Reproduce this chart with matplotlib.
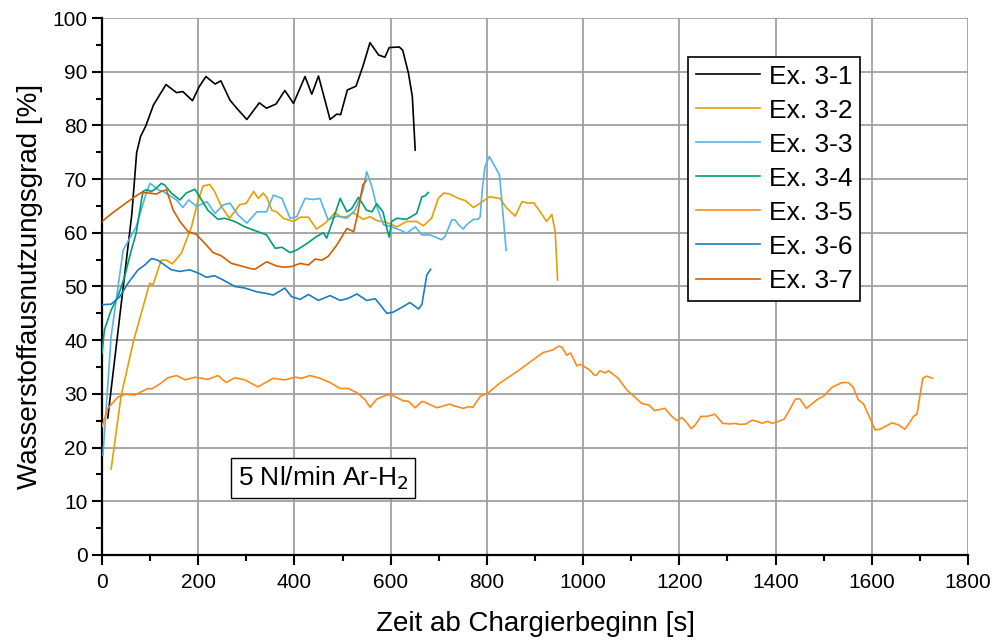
import numpy as np
import matplotlib
matplotlib.use('Agg')
import matplotlib.pyplot as plt
from matplotlib.ticker import MultipleLocator
from matplotlib import font_manager

plt.rcParams['font.family'] = ['Liberation Sans', 'DejaVu Sans']

# Ex. 3-1
t1 = [12, 62, 72, 80, 91, 107, 133, 155, 168, 188, 202, 216, 235, 247, 266, 280, 301, 327, 342, 362,
      380, 398, 422, 436, 450, 474, 488, 496, 510, 528, 543, 557, 575, 588, 597, 618, 625, 637, 645, 651]
y1 = [25.5, 63.5, 74.9, 77.9, 79.9, 83.8, 87.6, 86.1, 86.3, 84.6, 87.2, 89.1, 87.7, 88.3, 84.7, 83.2, 81.1, 84.2, 83.2, 84.0,
      86.5, 84.1, 89.1, 85.8, 89.2, 81.1, 82.1, 82.0, 86.6, 87.3, 91.2, 95.4, 93.1, 92.7, 94.5, 94.6, 94.0, 89.7, 85.4, 75.4]

# Ex. 3-2
t2 = [19, 40, 66, 99, 106, 123, 134, 146, 165, 186, 198, 210, 224, 234, 248, 265, 286, 300, 315, 325,
      335, 342, 353, 363, 377, 398, 412, 429, 446, 464, 484, 498, 509, 523, 543, 557, 571, 592, 613, 633,
      654, 668, 685, 699, 710, 723, 741, 755, 772, 786, 805, 827, 841, 859, 873, 886, 897, 911, 924, 935,
      942, 947]
y2 = [16.0, 29.8, 40.0, 50.6, 50.3, 54.9, 54.9, 54.2, 56.2, 61.1, 65.5, 68.7, 69.0, 67.7, 64.9, 62.7, 65.2, 65.5, 67.7, 66.4,
      67.4, 66.7, 64.2, 63.9, 62.7, 62.1, 62.9, 62.9, 60.7, 61.8, 63.7, 62.9, 63.0, 63.7, 62.5, 63.0, 62.3, 61.9, 61.1, 62.1,
      62.1, 61.3, 62.7, 66.4, 67.4, 67.2, 66.4, 66.0, 64.7, 65.5, 66.7, 66.4, 64.6, 63.1, 65.8, 65.5, 65.6, 63.9, 62.1, 63.4,
      60.2, 51.2]

# Ex. 3-3
t3 = [2, 19, 44, 71, 92, 100, 117, 127, 155, 168, 180, 197, 218, 235, 252, 266, 283, 301, 322, 342,
      356, 374, 391, 405, 422, 439, 453, 470, 488, 509, 526, 543, 550, 561, 571, 585, 602, 620, 633, 651,
      665, 682, 706, 713, 727, 734, 741, 751, 758, 772, 782, 786, 791, 796, 805, 817, 826, 831, 840]
y3 = [18.6, 40.7, 56.8, 61.1, 67.4, 69.2, 68.0, 67.7, 66.1, 64.7, 66.1, 64.9, 65.8, 63.6, 65.2, 65.5, 63.3, 61.8, 63.9, 63.9,
      67.0, 66.4, 62.7, 63.0, 66.4, 66.2, 66.4, 62.4, 63.1, 62.7, 64.2, 68.0, 71.4, 68.6, 64.9, 61.5, 61.1, 60.5, 59.9, 61.1,
      59.6, 59.6, 58.7, 59.3, 62.4, 62.4, 61.5, 60.7, 61.5, 62.5, 62.5, 63.0, 68.6, 72.3, 74.2, 72.3, 70.8, 66.1, 56.7]

# Ex. 3-4
t4 = [0, 5, 19, 33, 47, 61, 71, 85, 92, 103, 113, 123, 130, 144, 162, 175, 193, 203, 220, 241,
      255, 276, 297, 324, 342, 360, 374, 391, 405, 426, 446, 460, 467, 478, 495, 509, 519, 533, 550, 561,
      571, 584, 592, 597, 602, 613, 633, 654, 665, 672, 678]
y4 = [37.6, 41.9, 45.6, 48.1, 51.8, 56.8, 59.9, 67.7, 68.0, 67.7, 68.3, 69.2, 68.9, 67.4, 66.1, 67.4, 68.1, 66.7, 64.2, 62.5,
      62.7, 62.1, 61.1, 60.2, 59.6, 57.1, 57.3, 56.3, 56.8, 58.0, 59.3, 60.0, 59.0, 61.8, 66.4, 63.9, 64.5, 66.6, 64.2, 63.9,
      65.4, 63.9, 60.8, 59.2, 62.1, 62.7, 62.5, 63.6, 66.7, 66.9, 67.5]

# Ex. 3-5
t5 = [0, 12, 33, 47, 68, 96, 103, 123, 137, 155, 173, 193, 220, 241, 258, 276, 297, 324, 356, 380,
      401, 415, 432, 453, 474, 495, 512, 530, 547, 557, 571, 592, 602, 626, 637, 651, 665, 672, 696, 723,
      730, 751, 762, 771, 786, 803, 827, 862, 897, 917, 938, 949, 956, 966, 974, 987, 994, 1013, 1023, 1028,
      1035, 1046, 1053, 1073, 1091, 1105, 1122, 1137, 1148, 1160, 1170, 1181, 1195, 1205, 1214, 1225, 1233, 1245, 1257, 1274,
      1290, 1306, 1316, 1325, 1339, 1351, 1361, 1372, 1383, 1392, 1404, 1418, 1429, 1441, 1450, 1464, 1486, 1500, 1517, 1538,
      1551, 1561, 1572, 1583, 1593, 1607, 1617, 1642, 1656, 1669, 1687, 1694, 1706, 1714, 1726]
y5 = [23.9, 27.3, 29.4, 29.9, 29.8, 31.0, 30.9, 32.0, 33.0, 33.4, 32.6, 33.1, 32.7, 33.4, 32.1, 33.0, 32.6, 31.3, 32.9, 32.6,
      33.1, 32.9, 33.4, 32.9, 32.1, 31.0, 31.0, 30.2, 28.9, 27.5, 29.0, 29.8, 29.8, 28.7, 28.6, 27.4, 28.6, 28.4, 27.4, 28.1,
      27.8, 27.3, 27.6, 27.5, 29.5, 30.2, 32.0, 34.1, 36.4, 37.7, 38.2, 38.9, 38.7, 37.2, 37.6, 35.2, 35.5, 34.5, 33.5, 33.5,
      34.3, 33.9, 34.3, 32.9, 30.7, 29.6, 28.2, 27.9, 26.9, 27.1, 27.3, 26.1, 25.0, 25.6, 24.8, 23.5, 24.2, 25.8, 25.8, 26.2,
      24.5, 24.4, 24.5, 24.3, 24.4, 25.1, 24.9, 24.5, 24.9, 24.5, 24.8, 25.3, 27.0, 29.0, 29.1, 27.3, 28.9, 29.6, 31.2, 32.1,
      32.1, 31.3, 28.9, 28.1, 26.1, 23.3, 23.4, 24.6, 24.2, 23.4, 25.8, 26.2, 32.9, 33.3, 32.9]

# Ex. 3-6
t6 = [0, 19, 37, 54, 75, 89, 103, 116, 130, 144, 162, 182, 200, 217, 234, 252, 276, 297, 322, 342,
      356, 380, 394, 412, 429, 450, 474, 495, 512, 530, 550, 568, 578, 592, 605, 623, 640, 658, 665, 675,
      683]
y6 = [46.6, 46.7, 48.1, 50.6, 53.1, 54.0, 55.2, 54.9, 54.0, 53.1, 52.8, 53.1, 52.5, 51.7, 52.0, 51.2, 50.0, 49.7, 49.0, 48.7,
      48.4, 49.7, 48.1, 47.6, 48.5, 47.4, 48.3, 47.4, 47.8, 48.6, 47.4, 47.7, 46.6, 45.0, 45.2, 46.1, 47.0, 45.8, 46.7, 52.1,
      53.2]

# Ex. 3-7
t7 = [0, 19, 37, 54, 68, 82, 99, 113, 123, 134, 141, 148, 162, 179, 196, 214, 231, 248, 269, 290,
      310, 318, 342, 363, 377, 394, 412, 429, 443, 457, 470, 488, 509, 523, 531, 542, 549]
y7 = [62.1, 63.5, 64.7, 65.8, 66.7, 67.5, 67.4, 67.2, 67.7, 68.0, 66.1, 64.2, 62.1, 60.2, 59.7, 58.0, 56.3, 55.7, 54.3, 53.8,
      53.3, 53.2, 54.6, 53.8, 53.6, 53.7, 54.3, 54.0, 55.1, 54.9, 55.6, 57.7, 60.8, 60.2, 63.3, 68.9, 69.7]

series = [(t1, y1, 'Ex. 3-1', '#000000'),
          (t2, y2, 'Ex. 3-2', '#E69F00'),
          (t3, y3, 'Ex. 3-3', '#56B4E9'),
          (t4, y4, 'Ex. 3-4', '#009E73'),
          (t5, y5, 'Ex. 3-5', '#FF8A1C'),
          (t6, y6, 'Ex. 3-6', '#1A7DC0'),
          (t7, y7, 'Ex. 3-7', '#D55E00')]

# narrow font for x tick labels if it is there
installed = {f.name for f in font_manager.fontManager.ttflist}
narrow = 'Liberation Sans Narrow' if 'Liberation Sans Narrow' in installed else 'Liberation Sans'

fig = plt.figure(figsize=(10, 6.43), dpi=100)
ax = fig.add_axes([0.102, 0.137, 0.866, 0.835])

for t, y, lab, c in series:
    ax.plot(t, y, color=c, lw=1.2, label=lab, zorder=3)

ax.set_xlim(0, 1800)
ax.set_ylim(0, 100)
ax.xaxis.set_major_locator(MultipleLocator(200))
ax.xaxis.set_minor_locator(MultipleLocator(100))
ax.yaxis.set_major_locator(MultipleLocator(10))
ax.yaxis.set_minor_locator(MultipleLocator(5))
ax.grid(True, which='major', color='#a0a0a0', lw=1.3, zorder=0)
ax.set_axisbelow(True)

for s in ['top', 'right']:
    ax.spines[s].set_visible(False)
for s in ['left', 'bottom']:
    ax.spines[s].set_linewidth(1.6)
    ax.spines[s].set_color('black')

ax.tick_params(which='major', direction='out', length=7, width=1.5, labelsize=15)
ax.tick_params(which='minor', direction='out', length=4, width=1.5)
ax.tick_params(axis='x', pad=6)
for lbl in ax.get_xticklabels():
    lbl.set_family([narrow, 'DejaVu Sans'])
    lbl.set_fontsize(16 if narrow != 'Liberation Sans' else 15)

ax.set_xlabel('Zeit ab Chargierbeginn [s]', fontsize=20, labelpad=14)
ax.set_ylabel('Wasserstoffausnutzungsgrad [%]', fontsize=20, labelpad=7)

leg = ax.legend(loc='upper left', bbox_to_anchor=(0.677, 0.928), fontsize=19,
                frameon=True, fancybox=False, edgecolor='black', framealpha=1,
                handlelength=2.4, handletextpad=0.35, labelspacing=0.38, borderpad=0.3,
                borderaxespad=0)
leg.get_frame().set_linewidth(1.2)

ax.text(459, 14.3, '5 Nl/min Ar-H$_2$', fontsize=19, ha='center', va='center',
        bbox=dict(boxstyle='square,pad=0.25', facecolor='white', edgecolor='black', lw=1.0),
        zorder=5)

fig.savefig('out.png', dpi=100)
